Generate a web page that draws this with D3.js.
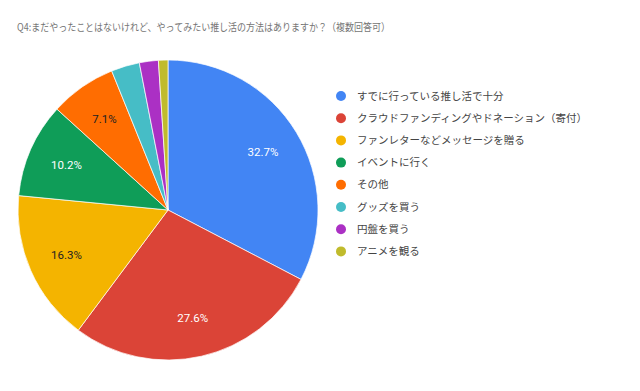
<!DOCTYPE html>
<html>
<head>
<meta charset="utf-8">
<script src="https://cdn.jsdelivr.net/npm/d3@7"></script>
<style>
  body { margin: 0; background: #fff; }
  text { font-family: "Noto Sans CJK JP", Roboto, sans-serif; }
</style>
</head>
<body>
<script>
// answers (count of 98)
var labels = ["すでに行っている推し活で十分", "クラウドファンディングやドネーション（寄付）",
  "ファンレターなどメッセージを贈る", "イベントに行く", "その他", "グッズを買う", "円盤を買う", "アニメを観る"]
var counts = [32, 27, 16, 10, 7, 3, 2, 1]
var colors = ["#4285f4", "#db4437", "#f4b400", "#0f9d58", "#ff6d01", "#46bdc6", "#ab30c4", "#c0bb2c"]
var labelInk = ["#fff", "#fff", "#222", "#fff", "#222", "#fff", "#fff", "#fff"]

var width = 640, height = 391
var cx = 168, cy = 210, r = 150

var svg = d3.select("body").append("svg")
  .attr("width", width)
  .attr("height", height)

svg.append("text")
  .attr("x", 17).attr("y", 31)
  .attr("textLength", 373)
  .attr("lengthAdjust", "spacingAndGlyphs")
  .style("font-size", "10.5px")
  .style("fill", "#757575")
  .text("Q4:まだやったことはないけれど、やってみたい推し活の方法はありますか？（複数回答可）")

var total = d3.sum(counts)
var pie = d3.pie().sort(null)
var arcs = pie(counts)
var arc = d3.arc().innerRadius(0).outerRadius(r)
var labelArc = d3.arc().innerRadius(r * 0.74).outerRadius(r * 0.74)

var g = svg.append("g").attr("transform", "translate(" + cx + "," + cy + ")")

g.selectAll("path")
  .data(arcs)
  .enter()
  .append("path")
  .attr("d", arc)
  .attr("fill", function(d, i) { return colors[i] })
  .attr("stroke", "#fff")
  .attr("stroke-width", 0.7)

g.selectAll("text.pct")
  .data(arcs.filter(function(d) { return d.value / total > 0.05 }))
  .enter()
  .append("text")
  .attr("class", "pct")
  .attr("transform", function(d) { return "translate(" + labelArc.centroid(d) + ")" })
  .attr("dy", "0.35em")
  .style("text-anchor", "middle")
  .style("font-family", "Roboto, sans-serif")
  .style("font-size", "11.5px")
  .style("fill", function(d) { return labelInk[d.index] })
  .text(function(d) { return (d.value / total * 100).toFixed(1) + "%" })

var legend = svg.append("g")
  .selectAll("g")
  .data(labels)
  .enter()
  .append("g")
  .attr("transform", function(d, i) { return "translate(341," + (96 + i * 22.2) + ")" })

legend.append("circle")
  .attr("r", 5)
  .attr("fill", function(d, i) { return colors[i] })

legend.append("text")
  .attr("x", 16)
  .attr("dy", "0.35em")
  .style("font-size", "10.5px")
  .style("fill", "#444")
  .text(function(d) { return d })
</script>
</body>
</html>
